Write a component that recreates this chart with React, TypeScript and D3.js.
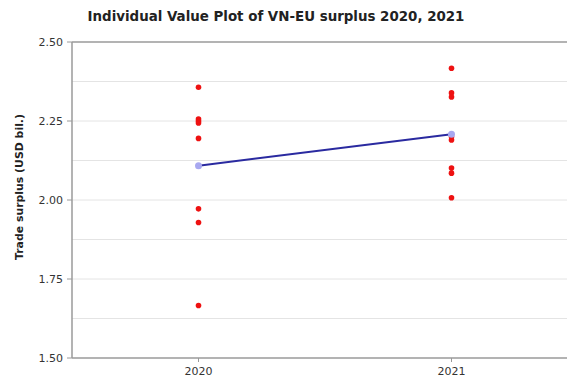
import React from "react";
import * as d3 from "d3";

// Monthly VN-EU trade surplus (USD bil.) by year
const years = ["2020", "2021"];
const surplus2020 = [2.357, 2.256, 2.25, 2.244, 2.195, 1.972, 1.929, 1.666];
const surplus2021 = [2.417, 2.339, 2.326, 2.2, 2.19, 2.101, 2.085, 2.007];
const yTicks = [1.5, 1.75, 2.0, 2.25, 2.5];
const yGrid = [1.625, 1.75, 1.875, 2.0, 2.125, 2.25, 2.375];

const W = 567;
const H = 379;
const FONT = "'DejaVu Sans', Verdana, sans-serif";

export default function App() {
  const series = [surplus2020, surplus2021];
  const x = d3.scaleLinear().domain([-0.5, 1.5]).range([72, 578]);
  const y = d3.scaleLinear().domain([1.5, 2.5]).range([358, 42]);
  const means = series.map((s) => d3.mean(s) as number);
  const meanLine = d3
    .line<number>()
    .x((_, i) => x(i))
    .y((d) => y(d));

  return (
    <svg
      width={W}
      height={H}
      style={{ position: "absolute", left: 0, top: 0, background: "#fff" }}
      fontFamily={FONT}
    >
      <rect x={0} y={0} width={W} height={H} fill="#fff" />
      <text
        x={276}
        y={21}
        textAnchor="middle"
        fontSize={13.4}
        fontWeight="bold"
        fill="#222"
      >
        Individual Value Plot of VN-EU surplus 2020, 2021
      </text>

      {/* gridlines */}
      {yGrid.map((v) => (
        <line
          key={v}
          x1={x.range()[0]}
          x2={W}
          y1={y(v)}
          y2={y(v)}
          stroke="#e4e4e4"
          strokeWidth={1}
        />
      ))}

      {/* frame */}
      <line x1={72} x2={W} y1={y(2.5)} y2={y(2.5)} stroke="#9a9a9a" strokeWidth={1.5} />
      <line x1={72} x2={W} y1={y(1.5)} y2={y(1.5)} stroke="#9a9a9a" strokeWidth={1.5} />
      <line x1={72} x2={72} y1={y(2.5)} y2={y(1.5)} stroke="#9a9a9a" strokeWidth={1.5} />

      {/* y ticks */}
      {yTicks.map((v) => (
        <g key={v}>
          <line x1={67} x2={72} y1={y(v)} y2={y(v)} stroke="#9a9a9a" />
          <text
            x={63}
            y={y(v)}
            dy="0.35em"
            textAnchor="end"
            fontSize={11}
            fill="#333"
          >
            {d3.format(".2f")(v)}
          </text>
        </g>
      ))}

      {/* x ticks */}
      {years.map((yr, i) => (
        <g key={yr}>
          <line x1={x(i)} x2={x(i)} y1={358} y2={362} stroke="#9a9a9a" />
          <text x={x(i)} y={375} textAnchor="middle" fontSize={11} fill="#333">
            {yr}
          </text>
        </g>
      ))}

      <text
        transform="translate(23,187) rotate(-90)"
        textAnchor="middle"
        fontSize={10.9}
        fontWeight="bold"
        fill="#222"
      >
        Trade surplus (USD bil.)
      </text>

      {/* individual values */}
      {series.map((s, i) =>
        s.map((v, j) => (
          <circle key={`${i}-${j}`} cx={x(i)} cy={y(v)} r={2.8} fill="#ee1111" />
        ))
      )}

      {/* mean connect line */}
      <path d={meanLine(means) ?? ""} fill="none" stroke="#2a2aa0" strokeWidth={2} />
      {means.map((m, i) => (
        <circle key={i} cx={x(i)} cy={y(m)} r={3.5} fill="#a8a8f0" />
      ))}
    </svg>
  );
}
